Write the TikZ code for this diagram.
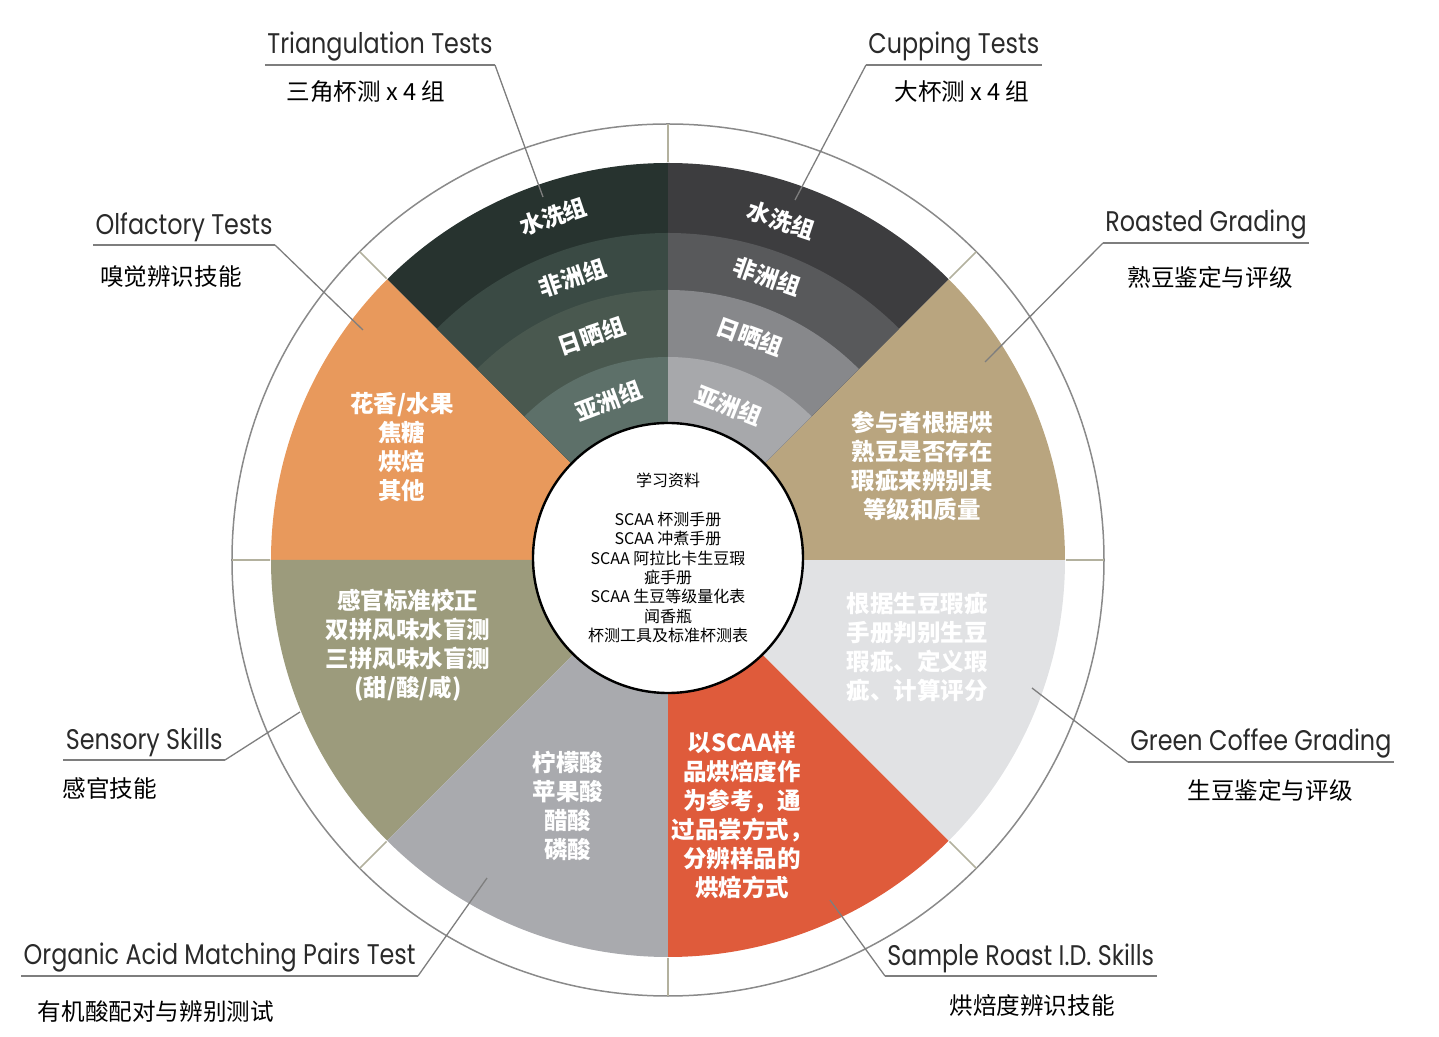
\documentclass[tikz,border=0pt]{standalone}
\usepackage{fontspec}
\usepackage{tikz}

\newfontfamily\cjk{Noto Sans CJK SC}
\newfontfamily\enfont{Poppins}[FakeStretch=0.84]

\definecolor{washA}{HTML}{27332F}
\definecolor{washB}{HTML}{3A4A44}
\definecolor{washC}{HTML}{49584F}
\definecolor{washD}{HTML}{5D7069}
\definecolor{cupA}{HTML}{3D3D3F}
\definecolor{cupB}{HTML}{58595B}
\definecolor{cupC}{HTML}{87888B}
\definecolor{cupD}{HTML}{A7A8AB}
\definecolor{floral}{HTML}{E8995C}
\definecolor{roasted}{HTML}{B9A57F}
\definecolor{sensory}{HTML}{9C9B7C}
\definecolor{greenbean}{HTML}{E1E2E4}
\definecolor{acids}{HTML}{A9AAAE}
\definecolor{roastid}{HTML}{DF5B3B}
\definecolor{ink}{HTML}{2A2A2A}
\definecolor{leadgray}{HTML}{7E7E7E}
\definecolor{rimgray}{HTML}{8A8A8A}
\definecolor{tickgray}{HTML}{B3B19E}

\begin{document}
\begin{tikzpicture}[x=0.5pt, y=0.5pt,
    tag/.style={font=\enfont\fontsize{14.2}{17}\selectfont, text=ink, inner xsep=1pt, inner ysep=1.5pt},
    sub/.style={font=\cjk\fontsize{11.8}{14}\selectfont, text=black},
    blurb/.style={font=\cjk\bfseries\fontsize{11.75}{14.5}\selectfont, text=white, align=center},
    ringtxt/.style={font=\cjk\bfseries\fontsize{11.5}{14}\selectfont, text=white, inner sep=0pt},
    uline/.style={draw=leadgray, line width=1pt},
    lead/.style={draw=leadgray, line width=0.65pt},
    tick/.style={draw=tickgray, line width=0.8pt}]
    \useasboundingbox (-668,-477) rectangle (771,560);

    % the eight sectors
    \fill[floral] (0,0) -- (135:397) arc[start angle=135, end angle=180, radius=397] -- cycle;
    \fill[sensory] (0,0) -- (180:397) arc[start angle=180, end angle=225, radius=397] -- cycle;
    \fill[acids] (0,0) -- (225:397) arc[start angle=225, end angle=270, radius=397] -- cycle;
    \fill[roastid] (0,0) -- (270:397) arc[start angle=270, end angle=315, radius=397] -- cycle;
    \fill[greenbean] (0,0) -- (315:397) arc[start angle=315, end angle=360, radius=397] -- cycle;
    \fill[roasted] (0,0) -- (0:397) arc[start angle=0, end angle=45, radius=397] -- cycle;

    % the two ringed sectors
    \foreach \r/\c in {397/washA, 327/washB, 270/washC, 203/washD}
        \fill[\c] (0,0) -- (90:\r) arc[start angle=90, end angle=135, radius=\r] -- cycle;
    \foreach \r/\c in {397/cupA, 327/cupB, 270/cupC, 203/cupD}
        \fill[\c] (0,0) -- (45:\r) arc[start angle=45, end angle=90, radius=\r] -- cycle;

    % rim and ticks
    \draw[draw=rimgray, line width=0.75pt] (0,0) circle[radius=436];
    \foreach \a in {0,45,...,315}
        \draw[tick] (\a:398) -- (\a:436);

    % ring labels
    \foreach \lbl/\r/\a [count=\i] in {水洗组/362/108.5, 非洲组/298/108.7, 日晒组/237/108.8, 亚洲组/170/110.5}
        \node[ringtxt, rotate=\a-90] (tri\i) at (\a:\r) {\lbl};
    \foreach \lbl/\r/\a [count=\i] in {水洗组/358/71.6, 非洲组/300/70.7, 日晒组/238/69.8, 亚洲组/166/68.5}
        \node[ringtxt, rotate=\a-90] (cup\i) at (\a:\r) {\lbl};

    % sector texts
    \node[blurb] (aroma) at (-266,113) {花香/水果\\焦糖\\烘焙\\其他};
    \node[blurb] (defect) at (254,94) {参与者根据烘\\熟豆是否存在\\瑕疵来辨别其\\等级和质量};
    \node[blurb] (calib) at (-260,-85) {感官标准校正\\双拼风味水盲测\\三拼风味水盲测\\(甜/酸/咸)};
    \node[blurb] (gcg) at (249,-87) {根据生豆瑕疵\\手册判别生豆\\瑕疵、定义瑕\\疵、计算评分};
    \node[blurb] (acid) at (-100,-246) {柠檬酸\\苹果酸\\醋酸\\磷酸};
    \node[blurb] (roast) at (74,-255) {以SCAA样\\品烘焙度作\\为参考，通\\过品尝方式，\\分辨样品的\\烘焙方式};

    % hub
    \node[draw=black, line width=1.2pt, fill=white, circle, minimum size=135pt, align=center,
        font=\cjk\fontsize{8}{9.65}\selectfont] (hub) at (0,2)
        {学习资料\\[9.65pt]SCAA 杯测手册\\SCAA 冲煮手册\\SCAA 阿拉比卡生豆瑕\\疵手册\\SCAA 生豆等级量化表\\闻香瓶\\杯测工具及标准杯测表};

    % leader ends
    \coordinate (tri-pt) at (-125,363);
    \coordinate (cup-pt) at (127,360);
    \coordinate (olf-pt) at (-305,230);
    \coordinate (roa-pt) at (317,198);
    \coordinate (sen-pt) at (-368,-152);
    \coordinate (org-pt) at (-181,-318);
    \coordinate (gre-pt) at (364,-128);
    \coordinate (sam-pt) at (162,-340);

    % outer labels
    \node[tag, anchor=south east] (tri) at (-173,495) {Triangulation Tests};
    \node[tag, anchor=south west] (cup) at (198,495) {Cupping Tests};
    \node[tag, anchor=south east] (olf) at (-393,315) {Olfactory Tests};
    \node[tag, anchor=south west] (roa) at (435,317) {Roasted Grading};
    \node[tag, anchor=south east] (sen) at (-443,-200) {Sensory Skills};
    \node[tag, anchor=south east] (org) at (-250,-416) {Organic Acid Matching Pairs Test};
    \node[tag, anchor=south west] (gre) at (460,-202) {Green Coffee Grading};
    \node[tag, anchor=south west] (sam) at (217,-416) {Sample Roast I.D. Skills};

    \node[sub] (tri-cn) at (-302,468) {三角杯测 x 4 组};
    \node[sub] (cup-cn) at (294,468) {大杯测 x 4 组};
    \node[sub] (olf-cn) at (-497,283) {嗅觉辨识技能};
    \node[sub] (roa-cn) at (542,283) {熟豆鉴定与评级};
    \node[sub] (sen-cn) at (-558,-228) {感官技能};
    \node[sub] (gre-cn) at (602,-230) {生豆鉴定与评级};
    \node[sub] (org-cn) at (-512,-452) {有机酸配对与辨别测试};
    \node[sub] (sam-cn) at (364,-445) {烘焙度辨识技能};

    % underlines and leaders
    \foreach \n in {tri, cup, olf, roa, sen, org, gre, sam}
        \draw[uline] (\n.south west) -- (\n.south east);
    \draw[lead] (tri.south east) -- (tri-pt);
    \draw[lead] (cup.south west) -- (cup-pt);
    \draw[lead] (olf.south east) -- (olf-pt);
    \draw[lead] (roa.south west) -- (roa-pt);
    \draw[lead] (sen.south east) -- (sen-pt);
    \draw[lead] (org.south east) -- (org-pt);
    \draw[lead] (gre.south west) -- (gre-pt);
    \draw[lead] (sam.south west) -- (sam-pt);
\end{tikzpicture}
\end{document}
